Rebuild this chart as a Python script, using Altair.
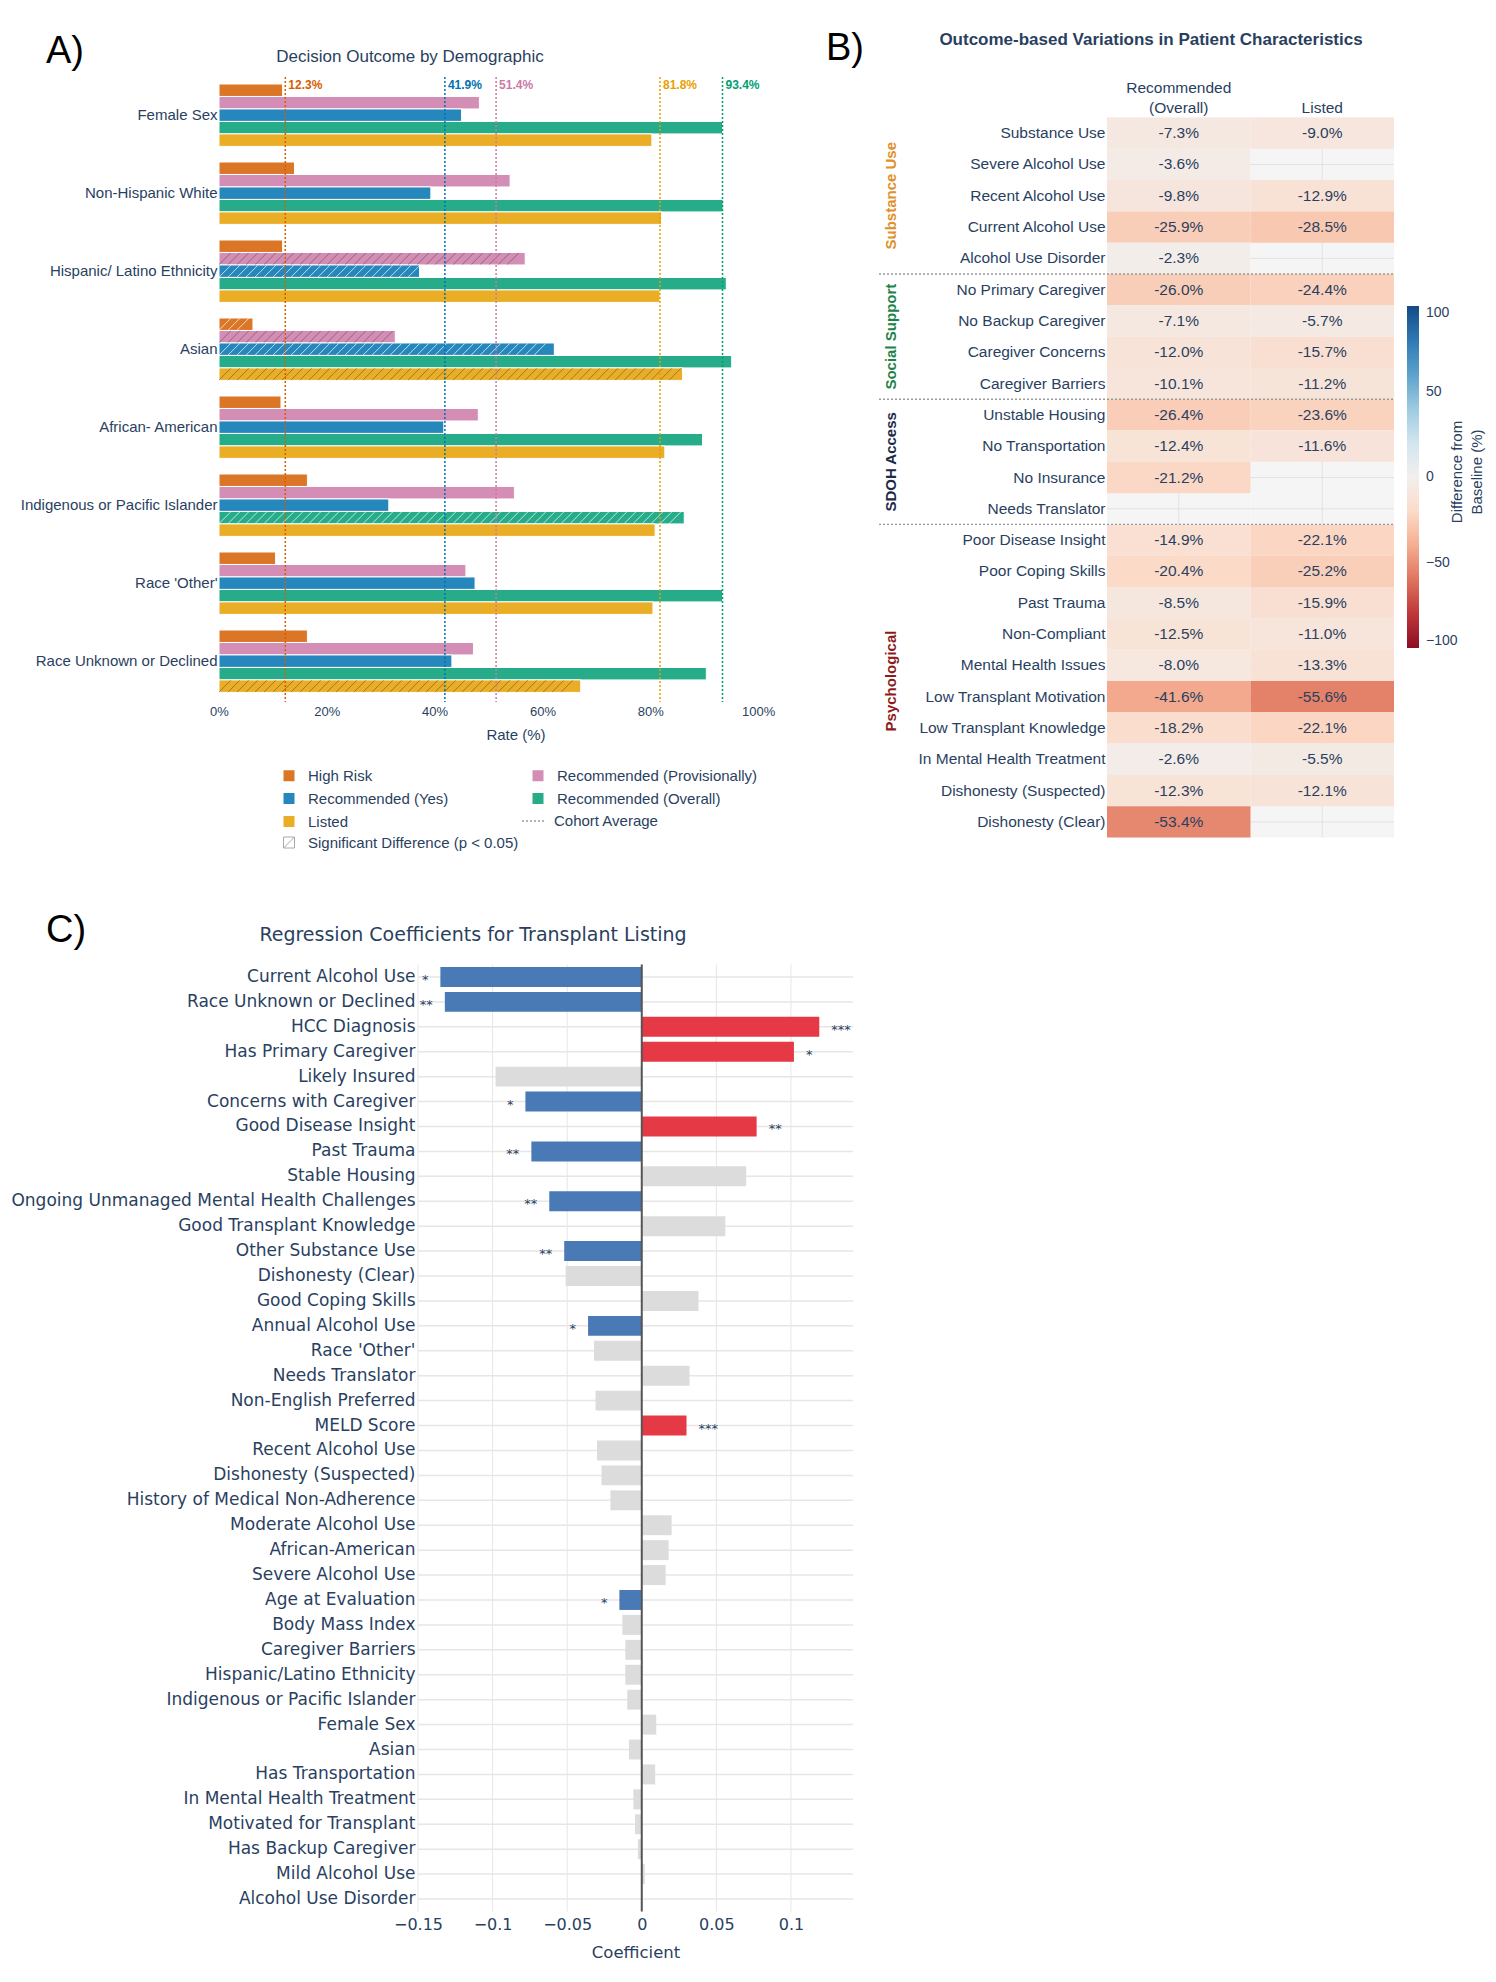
import altair as alt
import pandas as pd

TXT = "#2a3f5f"
SIG = "Significant Difference (p < 0.05)"
COHORT = "Cohort Average"

# ---------------- Panel A data ----------------
groups_a = ["Female Sex", "Non-Hispanic White", "Hispanic/ Latino Ethnicity", "Asian",
            "African- American", "Indigenous or Pacific Islander", "Race 'Other'",
            "Race Unknown or Declined"]
series_a = ["High Risk", "Recommended (Provisionally)", "Recommended (Yes)",
            "Recommended (Overall)", "Listed"]
high_risk = [11.8, 14.0, 11.8, 6.3, 11.5, 16.4, 10.5, 16.4]
rec_prov = [48.3, 54.0, 56.8, 32.7, 48.1, 54.8, 45.8, 47.2]
rec_yes = [45.0, 39.3, 37.2, 62.2, 41.7, 31.5, 47.5, 43.2]
rec_overall = [93.4, 93.5, 94.1, 95.1, 89.7, 86.3, 93.4, 90.4]
listed = [80.3, 82.1, 81.8, 86.0, 82.7, 80.9, 80.5, 67.1]
sig_high_risk = [0, 0, 0, 1, 0, 0, 0, 0]
sig_prov = [0, 0, 1, 1, 0, 0, 0, 0]
sig_yes = [0, 0, 1, 1, 0, 0, 0, 0]
sig_overall = [0, 0, 0, 0, 0, 1, 0, 0]
sig_listed = [0, 0, 0, 1, 0, 0, 0, 1]
cohort_avg = [12.3, 51.4, 41.9, 93.4, 81.8]
ticks_a = [0, 20, 40, 60, 80, 100]
okabe = ["#D55E00", "#CC79A7", "#0072B2", "#009E73", "#E69F00"]
# legend reading order (filled column by column, two columns)
legend_order_a = ["High Risk", "Recommended (Yes)", "Listed",
                  "Recommended (Provisionally)", "Recommended (Overall)"]

# ---------------- Panel B data ----------------
rows_b = ["Substance Use", "Severe Alcohol Use", "Recent Alcohol Use", "Current Alcohol Use",
          "Alcohol Use Disorder", "No Primary Caregiver", "No Backup Caregiver",
          "Caregiver Concerns", "Caregiver Barriers", "Unstable Housing", "No Transportation",
          "No Insurance", "Needs Translator", "Poor Disease Insight", "Poor Coping Skills",
          "Past Trauma", "Non-Compliant", "Mental Health Issues", "Low Transplant Motivation",
          "Low Transplant Knowledge", "In Mental Health Treatment", "Dishonesty (Suspected)",
          "Dishonesty (Clear)"]
row_groups_b = (["Substance Use"] * 5 + ["Social Support"] * 4 + ["SDOH Access"] * 4
                + ["Psychological"] * 10)
group_names_b = ["Substance Use", "Social Support", "SDOH Access", "Psychological"]
group_colors_b = ["#E0902C", "#1D8348", "#1B2A4A", "#8E1B1B"]
cols_b = ["Recommended (Overall)", "Listed"]
diff_rec_overall = [-7.3, -3.6, -9.8, -25.9, -2.3, -26.0, -7.1, -12.0, -10.1, -26.4, -12.4,
                    -21.2, None, -14.9, -20.4, -8.5, -12.5, -8.0, -41.6, -18.2, -2.6, -12.3,
                    -53.4]
diff_listed = [-9.0, None, -12.9, -28.5, None, -24.4, -5.7, -15.7, -11.2, -23.6, -11.6,
               None, None, -22.1, -25.2, -15.9, -11.0, -13.3, -55.6, -22.1, -5.5, -12.1,
               None]
colorbar_ticks = [-100, -50, 0, 50, 100]

# ---------------- Panel C data ----------------
coef_labels = ["Current Alcohol Use", "Race Unknown or Declined", "HCC Diagnosis",
               "Has Primary Caregiver", "Likely Insured", "Concerns with Caregiver",
               "Good Disease Insight", "Past Trauma", "Stable Housing",
               "Ongoing Unmanaged Mental Health Challenges", "Good Transplant Knowledge",
               "Other Substance Use", "Dishonesty (Clear)", "Good Coping Skills",
               "Annual Alcohol Use", "Race 'Other'", "Needs Translator",
               "Non-English Preferred", "MELD Score", "Recent Alcohol Use",
               "Dishonesty (Suspected)", "History of Medical Non-Adherence",
               "Moderate Alcohol Use", "African-American", "Severe Alcohol Use",
               "Age at Evaluation", "Body Mass Index", "Caregiver Barriers",
               "Hispanic/Latino Ethnicity", "Indigenous or Pacific Islander", "Female Sex",
               "Asian", "Has Transportation", "In Mental Health Treatment",
               "Motivated for Transplant", "Has Backup Caregiver", "Mild Alcohol Use",
               "Alcohol Use Disorder"]
coef_values = [-0.135, -0.132, 0.119, 0.102, -0.098, -0.078, 0.077, -0.074, 0.070, -0.062,
               0.056, -0.052, -0.051, 0.038, -0.036, -0.032, 0.032, -0.031, 0.030, -0.030,
               -0.027, -0.021, 0.020, 0.018, 0.016, -0.015, -0.013, -0.011, -0.011, -0.0097,
               0.0097, -0.0086, 0.009, -0.0056, -0.0045, -0.0026, 0.002, 0.0003]
coef_stars = ["*", "**", "***", "*", "", "*", "**", "**", "", "**", "", "**", "", "", "*",
              "", "", "", "***", "", "", "", "", "", "", "*", "", "", "", "", "", "", "",
              "", "", "", "", ""]
ticks_c = [-0.15, -0.1, -0.05, 0, 0.05, 0.1]

panel_letters = ["A)", "B)", "C)"]
panel_titles = ["Decision Outcome by Demographic",
                "Outcome-based Variations in Patient Characteristics",
                "Regression Coefficients for Transplant Listing"]

W, H = 1480, 1966

# ======================= Panel A =======================
vals_a = [high_risk, rec_prov, rec_yes, rec_overall, listed]
sigs_a = [sig_high_risk, sig_prov, sig_yes, sig_overall, sig_listed]
dfA = pd.DataFrame([{"group": g, "series": s, "value": vals_a[si][gi],
                     "sig": bool(sigs_a[si][gi]), "sig_label": SIG}
                    for gi, g in enumerate(groups_a) for si, s in enumerate(series_a)])
dfCoh = pd.DataFrame({"series": series_a, "cohort": cohort_avg, "kind": COHORT,
                      "label": [f"{v:.1f}%" for v in cohort_avg]})

color_of = dict(zip(series_a, okabe))
xA = alt.Scale(domain=[0, 110], range=[211, 804], nice=False, zero=False)
yA = alt.Scale(domain=groups_a, range=[76, 684.4], paddingInner=0.2, paddingOuter=0)
oA = alt.Scale(domain=series_a, paddingInner=0, paddingOuter=0)
colA = alt.Scale(domain=legend_order_a, range=[color_of[s] for s in legend_order_a])

axAx = alt.Axis(orient="bottom", offset=-1274, values=ticks_a, labelExpr="datum.value + '%'",
                title="Rate (%)", ticks=False, domain=False, grid=False, labelFlush=False,
                labelOverlap=False, labelFontSize=13, labelPadding=5, labelColor=TXT,
                titleFontSize=15, titleFontWeight="normal", titleColor=TXT, titlePadding=9)
axAy = alt.Axis(orient="left", offset=-211, title=None, ticks=False, domain=False, grid=False,
                labelFontSize=15, labelColor=TXT, labelPadding=2, labelLimit=400)

barsA = alt.Chart(dfA).mark_bar(fillOpacity=0.85, stroke="white", strokeWidth=1).encode(
    x=alt.X("value:Q", scale=xA, axis=axAx),
    y=alt.Y("group:N", scale=yA, axis=axAy),
    yOffset=alt.YOffset("series:N", scale=oA),
    color=alt.Color("series:N", scale=colA, legend=alt.Legend(
        orient="none", legendX=273.5, legendY=760, columns=2, columnPadding=82, rowPadding=7,
        symbolType="square", symbolSize=121, symbolStrokeWidth=0, symbolOpacity=0.85,
        labelFontSize=15, labelColor=TXT, labelOffset=11.5, title=None, labelLimit=400)),
)

light_test = ("indexof(['High Risk', 'Recommended (Yes)', 'Recommended (Overall)'], "
              "datum.series) >= 0")
hatchA = alt.Chart(dfA).transform_filter("datum.sig").transform_calculate(
    stripes="sequence(1.1, datum.value - 1.0, 1.67)"
).transform_flatten(["stripes"]).mark_point(
    shape="M-1,1L1,-1", size=137, filled=False, strokeWidth=1
).encode(
    x=alt.X("stripes:Q", scale=xA, axis=axAx),
    y=alt.Y("group:N", scale=yA, axis=axAy),
    yOffset=alt.YOffset("series:N", scale=oA),
    stroke=alt.condition(light_test, alt.value("white"), alt.value("#3a3a3a")),
    strokeOpacity=alt.condition(light_test, alt.value(0.7), alt.value(0.45)),
    opacity=alt.Opacity("sig_label:O", scale=alt.Scale(domain=[SIG], range=[1]),
                        legend=alt.Legend(
                            orient="none", legendX=273.5, legendY=827, title=None,
                            symbolType="M-1,-1H1V1H-1Z M-1,1L1,-1", symbolSize=121,
                            symbolFillColor="white", symbolStrokeColor="#aaaaaa",
                            symbolStrokeWidth=1, labelFontSize=15, labelColor=TXT,
                            labelOffset=11.5, labelLimit=400)),
)

rulesA = alt.Chart(dfCoh).mark_rule(strokeWidth=1.5).encode(
    x=alt.X("cohort:Q", scale=xA, axis=axAx),
    y=alt.value(69), y2=alt.value(694),
    stroke=alt.Stroke("series:N", scale=colA, legend=None),
    strokeDash=alt.StrokeDash("kind:N", scale=alt.Scale(domain=[COHORT], range=[[2, 2]]),
                              legend=alt.Legend(
                                  orient="none", legendX=513, legendY=800, title=None,
                                  symbolType="stroke", symbolSize=576,
                                  symbolStrokeColor="#999999", symbolStrokeWidth=1.5,
                                  labelFontSize=15, labelColor=TXT, labelOffset=7,
                                  labelLimit=400)),
)

cohLabA = alt.Chart(dfCoh).mark_text(align="left", baseline="middle", dx=3, fontSize=12,
                                     fontWeight="bold").encode(
    x=alt.X("cohort:Q", scale=xA, axis=axAx),
    y=alt.value(76.7),
    text="label:N",
    fill=alt.Fill("series:N", scale=colA, legend=None),
)

panelA = alt.layer(barsA, hatchA, rulesA, cohLabA)

# ======================= Panel B =======================
diffs_b = [diff_rec_overall, diff_listed]
dfB = pd.DataFrame([{"row": r, "col": c, "value": diffs_b[ci][ri],
                     "label": (f"{diffs_b[ci][ri]:.1f}%" if diffs_b[ci][ri] is not None else "")}
                    for ri, r in enumerate(rows_b) for ci, c in enumerate(cols_b)])
dfRowsB = pd.DataFrame({"row": rows_b})
dfColsB = pd.DataFrame({"col": cols_b})

xB = alt.Scale(domain=cols_b, range=[1099, 1386], paddingInner=0, paddingOuter=0)
yB = alt.Scale(domain=rows_b, range=[109.5, 829.5], paddingInner=0, paddingOuter=0)
axBx = alt.Axis(orient="top", offset=-109.5, title=None, ticks=False, domain=False, grid=False,
                labelAngle=0, labelFontSize=15.5, labelColor=TXT, labelPadding=22,
                labelExpr=("length(split(datum.label, ' ')) > 1 ? split(datum.label, ' ') "
                           ": ['', datum.label]"),
                labelLineHeight=20)
axBy = alt.Axis(orient="left", offset=-1099, title=None, ticks=False, domain=False, grid=False,
                labelFontSize=15.5, labelColor=TXT, labelPadding=2, labelLimit=400)

bgB = alt.Chart(dfB).mark_rect(color="#f5f5f5").encode(
    x=alt.X("col:N", scale=xB, axis=axBx), y=alt.Y("row:N", scale=yB, axis=axBy))
gridHB = alt.Chart(dfRowsB).mark_rule(color="#e2e2e2", strokeWidth=1).encode(
    y=alt.Y("row:N", scale=yB, axis=axBy), x=alt.value(1099), x2=alt.value(1386))
gridVB = alt.Chart(dfColsB).mark_rule(color="#e2e2e2", strokeWidth=1).encode(
    x=alt.X("col:N", scale=xB, axis=axBx), y=alt.value(109.5), y2=alt.value(829.5))
cellsB = alt.Chart(dfB).transform_filter("isValid(datum.value)").mark_rect().encode(
    x=alt.X("col:N", scale=xB, axis=axBx),
    y=alt.Y("row:N", scale=yB, axis=axBy),
    color=alt.Color("value:Q", scale=alt.Scale(scheme="redblue", domain=[-100, 100]),
                    legend=alt.Legend(orient="none", legendX=1399, legendY=298,
                                      direction="vertical", gradientLength=342,
                                      gradientThickness=12, title=None, values=colorbar_ticks,
                                      labelFontSize=14, labelColor=TXT, labelOffset=7,
                                      labelBaseline="middle",
                                      gradientStrokeWidth=0, labelOverlap=False)),
)
textB = alt.Chart(dfB).transform_filter("isValid(datum.value)").mark_text(
    fontSize=15.5, color=TXT, baseline="middle").encode(
    x=alt.X("col:N", scale=xB, axis=axBx),
    y=alt.Y("row:N", scale=yB, axis=axBy),
    text="label:N",
)
panelB = alt.layer(bgB, gridHB, gridVB, cellsB, textB)

# group labels and separators (own linear row-index scale)
first_idx = [row_groups_b.index(g) for g in group_names_b]
last_idx = [len(row_groups_b) - 1 - row_groups_b[::-1].index(g) for g in group_names_b]
dfGB = pd.DataFrame({"group": group_names_b,
                     "center": [(a + b) / 2 for a, b in zip(first_idx, last_idx)]})
dfSepB = pd.DataFrame({"b": [i - 0.5 for i in first_idx[1:]]})
ygB = alt.Scale(domain=[-0.5, len(rows_b) - 0.5], range=[109.5, 829.5], nice=False, zero=False)

sepB = alt.Chart(dfSepB).mark_rule(color="#999999", strokeDash=[2, 2], strokeWidth=1.3).encode(
    y=alt.Y("b:Q", scale=ygB, axis=None), x=alt.value(871), x2=alt.value(1386))
glabB = alt.Chart(dfGB).mark_text(angle=270, fontSize=15, fontWeight="bold",
                                  baseline="middle", align="center").encode(
    y=alt.Y("center:Q", scale=ygB, axis=None),
    x=alt.value(883),
    text="group:N",
    fill=alt.Fill("group:N", scale=alt.Scale(domain=group_names_b, range=group_colors_b),
                  legend=None),
)
panelBgroups = alt.layer(sepB, glabB)

# ======================= Panel C =======================
def cat_of(v, s):
    if not s:
        return "ns"
    return "pos" if v > 0 else "neg"

dfC = pd.DataFrame({"label": coef_labels, "coef": coef_values, "stars": coef_stars,
                    "cat": [cat_of(v, s) for v, s in zip(coef_values, coef_stars)]})
dfTC = pd.DataFrame({"t": ticks_c})

xC = alt.Scale(domain=[-0.15, 0.1416], range=[410, 845], nice=False, zero=False)
yC = alt.Scale(domain=coef_labels, range=[956.5, 1903.5], paddingInner=0.2, paddingOuter=0.1)
FC = "DejaVu Sans"
axCx = alt.Axis(orient="bottom", offset=-62.5, values=ticks_c,
                labelExpr="format(datum.value, '~g')", title="Coefficient",
                ticks=False, domain=False, grid=False, labelFlush=False, labelOverlap=False,
                labelFont=FC, labelFontSize=16, labelColor=TXT, labelPadding=5,
                titleFont=FC, titleFontSize=16.5, titleFontWeight="normal", titleColor=TXT,
                titlePadding=12)
axCy = alt.Axis(orient="left", offset=-410, title=None, ticks=False, domain=False, grid=False,
                labelFont=FC, labelFontSize=17, labelColor=TXT, labelPadding=3,
                labelLimit=600)

gridVC = alt.Chart(dfTC).mark_rule(color="#e6e6e6", strokeWidth=1).encode(
    x=alt.X("t:Q", scale=xC, axis=axCx), y=alt.value(956.5), y2=alt.value(1903.5))
gridHC = alt.Chart(dfC).mark_rule(color="#e6e6e6", strokeWidth=1.5).encode(
    y=alt.Y("label:N", scale=yC, axis=axCy), x=alt.value(410), x2=alt.value(845))
barsC = alt.Chart(dfC).mark_bar().encode(
    x=alt.X("coef:Q", scale=xC, axis=axCx),
    y=alt.Y("label:N", scale=yC, axis=axCy),
    color=alt.Color("cat:N", scale=alt.Scale(domain=["neg", "pos", "ns"],
                                             range=["#4A7AB5", "#E63946", "#DCDCDC"]),
                    legend=None),
)
zeroC = alt.Chart(dfTC).transform_filter("datum.t == 0").mark_rule(
    color="#555555", strokeWidth=2).encode(
    x=alt.X("t:Q", scale=xC, axis=axCx), y=alt.value(956.5), y2=alt.value(1903.5))
starsNeg = alt.Chart(dfC).transform_filter("datum.coef < 0 && datum.stars != ''").mark_text(
    align="right", baseline="middle", dx=-12, dy=3, font=FC, fontSize=13, color=TXT).encode(
    x=alt.X("coef:Q", scale=xC, axis=axCx), y=alt.Y("label:N", scale=yC, axis=axCy),
    text="stars:N")
starsPos = alt.Chart(dfC).transform_filter("datum.coef > 0 && datum.stars != ''").mark_text(
    align="left", baseline="middle", dx=12, dy=3, font=FC, fontSize=13, color=TXT).encode(
    x=alt.X("coef:Q", scale=xC, axis=axCx), y=alt.Y("label:N", scale=yC, axis=axCy),
    text="stars:N")
panelC = alt.layer(gridVC, gridHC, barsC, zeroC, starsNeg, starsPos)

# ======================= Titles / letters =======================
dfT = pd.DataFrame({"panel": ["A", "B", "C"], "letter": panel_letters, "title": panel_titles})

def letter(p, x, y):
    return alt.Chart(dfT).transform_filter(f"datum.panel == '{p}'").mark_text(
        align="left", baseline="alphabetic", fontSize=38, color="black").encode(
        x=alt.value(x), y=alt.value(y), text="letter:N")

titleA = alt.Chart(dfT).transform_filter("datum.panel == 'A'").mark_text(
    align="center", baseline="middle", fontSize=17, color=TXT).encode(
    x=alt.value(402), y=alt.value(49), text="title:N")
titleB = alt.Chart(dfT).transform_filter("datum.panel == 'B'").mark_text(
    align="center", baseline="middle", fontSize=17, fontWeight="bold", color=TXT).encode(
    x=alt.value(1143), y=alt.value(32), text="title:N")
titleC = alt.Chart(dfT).transform_filter("datum.panel == 'C'").mark_text(
    align="center", baseline="middle", font=FC, fontSize=19, color=TXT).encode(
    x=alt.value(465), y=alt.value(927), text="title:N")
cbarTitle = alt.Chart(dfT).transform_filter("datum.panel == 'B'").mark_text(
    angle=270, align="center", baseline="middle", fontSize=15, lineHeight=20, color=TXT).encode(
    x=alt.value(1449), y=alt.value(464), text=alt.value(["Difference from", "Baseline (%)"]))

annot = alt.layer(letter("A", 38, 55), letter("B", 818, 52), letter("C", 38, 934),
                  titleA, titleB, titleC, cbarTitle)

chart = alt.layer(panelA, panelB, panelBgroups, panelC, annot).resolve_scale(
    x="independent", y="independent", color="independent", fill="independent",
    stroke="independent", strokeDash="independent", opacity="independent"
).properties(
    width=W, height=H, autosize=alt.AutoSizeParams(type="none"), padding=0
).configure(font="Liberation Sans", background="white").configure_view(stroke=None)

chart.save("out.html", embed_options={"renderer": "svg", "actions": False})
